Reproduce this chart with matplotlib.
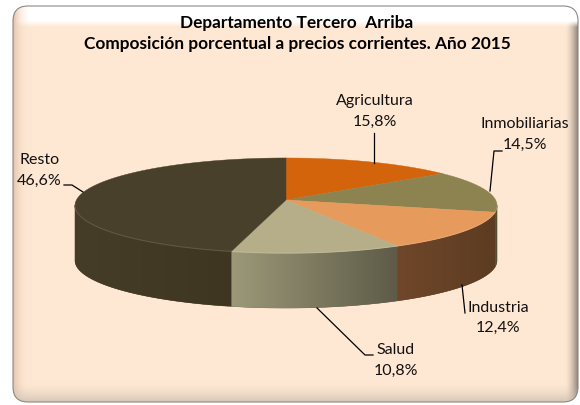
import numpy as np
import matplotlib
matplotlib.use("Agg")
import matplotlib.pyplot as plt
from matplotlib.patches import FancyBboxPatch, Polygon

labels = ["Agricultura", "Inmobiliarias", "Industria", "Salud", "Resto"]
values = [15.8, 14.5, 12.4, 10.8, 46.6]
value_text = ["15,8%", "14,5%", "12,4%", "10,8%", "46,6%"]
top_colors = ["#D4640C", "#8C8350", "#E69A5C", "#B6AE88", "#48402A"]
wall_left = ["#8A4410", "#5E5836", "#70472A", "#9C9878", "#453D28"]
wall_right = ["#8A4410", "#4E4A2E", "#5C3C22", "#5E5C48", "#3F3622"]

FONT = "Lato"
W, H = 580, 405

# pie geometry in pixels, slight perspective so the centre sits above the ellipse middle
CX, CY = 286.0, 200.0
A, B, K = 209.6, 46.9, 0.116
TILT = 0.08
DEPTH = 55


def project(theta):
    theta = theta + TILT * np.cos(theta)
    c, s = np.cos(theta), np.sin(theta)
    d = 1 + K * s
    return CX + A * c / d, CY - B * s / d


def hexrgb(h):
    return np.array(matplotlib.colors.to_rgb(h))


fig = plt.figure(figsize=(W / 100, H / 100), dpi=100)
ax = fig.add_axes([0, 0, 1, 1])
ax.axis("off")

# --- bevelled frame ---
x0, x1, y0, y1 = 13, 578, 6, 402
yy, xx = np.mgrid[0:H, 0:W] + 0.5
img = np.ones((H, W, 3)) * hexrgb("#FFE8D3")


def band(dist, width):
    return np.clip(1 - dist / width, 0, 1)


t_left = band(xx - x0, 20)[..., None] ** 3 * 0.8
t_right = band(x1 - xx, 13)[..., None] ** 1.6
t_bot = band(y1 - yy, 20)[..., None] ** 1.6 * 0.7
t_top = np.clip((27 - yy) / 6, 0, 1)[..., None] * np.clip((xx - x0 - 2) / 14, 0, 1)[..., None]
img = img * (1 - t_left) + hexrgb("#D8B8A4") * t_left
img = img * (1 - t_right) + hexrgb("#8F8278") * t_right
img = img * (1 - t_bot) + hexrgb("#C4B8AC") * t_bot
img = img * (1 - t_top) + np.ones(3) * t_top

frame = FancyBboxPatch((x0 + 15, y0 + 15), x1 - x0 - 30, y1 - y0 - 30,
                       boxstyle="round,pad=15,rounding_size=15",
                       fc="none", ec="#8C8884", lw=0.8, zorder=3)
ax.add_patch(frame)
im = ax.imshow(img, extent=(0, W, H, 0), aspect="auto", zorder=1, interpolation="bilinear")
im.set_clip_path(frame)

# --- pie: clockwise from twelve o'clock ---
edges = np.pi / 2 - 2 * np.pi * np.cumsum([0] + values) / sum(values)

# walls first, only the part of each slice on the front of the rim
ts_all = np.linspace(0, -np.pi, 721)
t_right_end = ts_all[np.argmax(project(ts_all)[0])]
t_left_end = ts_all[np.argmin(project(ts_all)[0])]
for i in range(len(values)):
    a0 = min(edges[i], t_right_end)
    lo = max(edges[i + 1], t_left_end)
    if a0 <= lo:
        continue
    px, py = project(np.linspace(a0, lo, 80))
    poly = Polygon(np.c_[np.r_[px, px[::-1]], np.r_[py, py[::-1] + DEPTH]],
                   closed=True, fc=wall_right[i], ec=wall_right[i], lw=0.3, zorder=4)
    ax.add_patch(poly)
    grad = np.linspace(0, 1, 64)[None, :, None]
    strip = hexrgb(wall_left[i]) * (1 - grad) + hexrgb(wall_right[i]) * grad
    g = ax.imshow(strip, extent=(px.min(), px.max(), py.max() + DEPTH, py.min()),
                  aspect="auto", zorder=4.5)
    g.set_clip_path(poly)

# top faces
for i in range(len(values)):
    ts = np.linspace(edges[i], edges[i + 1], 120)
    px, py = project(ts)
    ax.fill(np.r_[CX, px], np.r_[CY, py], color=top_colors[i], lw=0.3, zorder=5)
    front = ts[(ts < t_right_end) & (ts > t_left_end)]
    if len(front):
        rx, ry = project(front)
        rim = hexrgb(top_colors[i]) * 0.88 + 0.12
        ax.plot(rx, ry, color=rim, lw=0.8, zorder=6)

# --- labels and leader lines ---
label_xy = [(375, 101), (525, 124), (498, 308), (396, 350), (40, 160)]
value_xy = [(375, 122), (525, 145), (498, 328), (396, 371), (39, 181)]
leaders = [
    ([374, 374], [133, 163]),
    ([502, 494, 490], [151, 151, 191]),
    ([462, 465], [285, 313]),
    ([317, 365, 373], [308, 355, 355]),
    ([64, 72, 83], [185, 185, 192]),
]
for lab, val, lxy, vxy, (lx, ly) in zip(labels, value_text, label_xy, value_xy, leaders):
    ax.text(*lxy, lab, ha="center", va="center", fontsize=11.5, color="#111111",
            family=FONT, zorder=8)
    ax.text(*vxy, val, ha="center", va="center", fontsize=11.5, color="#111111",
            family=FONT, zorder=8)
    ax.plot(lx, ly, color="black", lw=0.9, zorder=7)

ax.text(297, 23, "Departamento Tercero  Arriba", ha="center", va="center", fontsize=12.4,
        fontweight="bold", color="black", family=FONT, zorder=8)
ax.text(297, 44, "Composición porcentual a precios corrientes. Año 2015", ha="center",
        va="center", fontsize=12.4, fontweight="bold", color="black", family=FONT, zorder=8)

ax.set_xlim(0, W)
ax.set_ylim(H, 0)

fig.savefig("out.png", dpi=100)
plt.close(fig)
